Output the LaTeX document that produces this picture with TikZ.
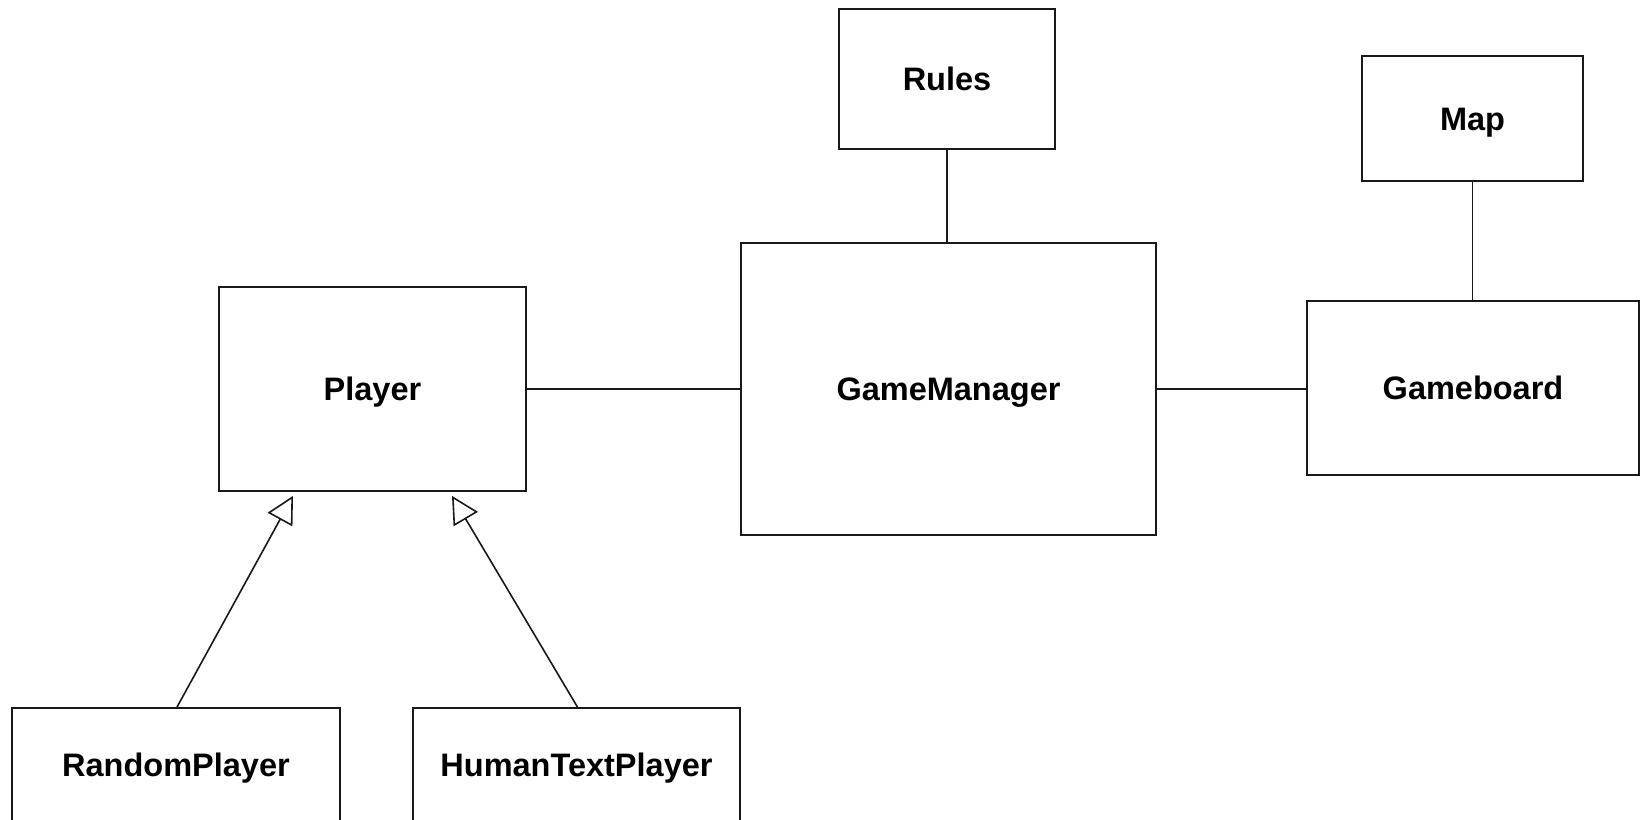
\documentclass[tikz,border=0pt]{standalone}
\usepackage{fontspec}
\setmainfont{Liberation Sans}
\usetikzlibrary{arrows.meta}
\tikzset{
  cls/.style={draw=black!90, line width=1.8pt, fill=white, inner sep=0pt,
    font=\fontsize{32.5}{36}\selectfont\bfseries, text height=23.4pt, text depth=0pt},
  assoc/.style={draw=black!90, line width=1.7pt},
  inh/.style={draw=black!90, line width=1.6pt,
    -{Triangle[open, length=27pt, width=28pt, line width=1.6pt]}}
}
\begin{document}
\begin{tikzpicture}[x=1pt,y=-1pt]
\useasboundingbox (0,0) rectangle (1643,819);
\fill[white] (0,0) rectangle (1643,819);
\clip (0,0) rectangle (1643,819);
\node[cls, minimum width=216pt, minimum height=140pt] (rules) at (947,79) {Rules};
\node[cls, minimum width=221pt, minimum height=125pt] (map) at (1472.5,118.5) {Map};
\node[cls, minimum width=415pt, minimum height=292pt] (gm) at (948.5,389) {GameManager};
\node[cls, minimum width=332pt, minimum height=174pt] (gb) at (1473,388) {Gameboard};
\node[cls, minimum width=307pt, minimum height=204pt] (player) at (372.5,389) {Player};
\node[cls, minimum width=328pt, minimum height=113pt] (rp) at (176,764.5) {RandomPlayer};
\node[cls, minimum width=327pt, minimum height=113pt] (htp) at (576.5,764.5) {HumanTextPlayer};
\draw[assoc] (player.east) -- (gm.west);
\draw[assoc] (gm.east) -- (gm.east -| gb.west);
\draw[assoc] (rules.south) -- (rules.south |- gm.north);
\draw[assoc] (map.south) -- (map.south |- gb.north);
\coordinate (t1) at ([xshift=-79.5pt,yshift=-4pt]player.south);
\coordinate (t2) at ([xshift=79.5pt,yshift=-4pt]player.south);
\draw[inh] ([xshift=1pt]rp.north) -- (t1);
\draw[inh] ([xshift=1pt]htp.north) -- (t2);
\end{tikzpicture}
\end{document}
